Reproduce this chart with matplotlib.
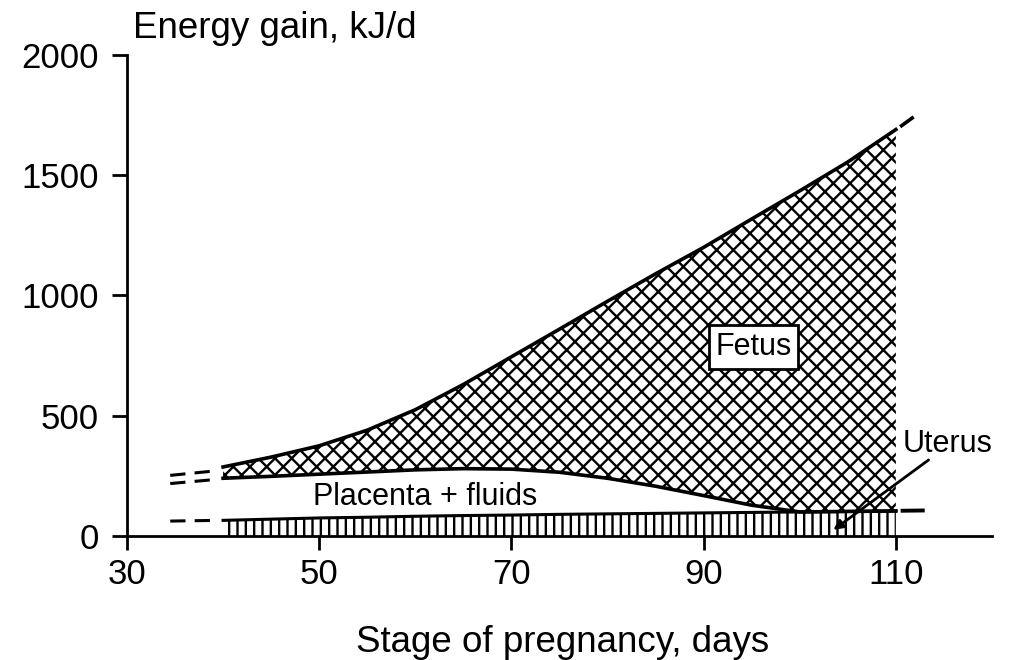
import numpy as np
import matplotlib
matplotlib.use("Agg")
import matplotlib.pyplot as plt

plt.rcParams['font.family'] = ['Liberation Sans', 'DejaVu Sans']
plt.rcParams['hatch.linewidth'] = 1.7

# stage of pregnancy (days) and cumulative energy gain (kJ/d)
days = [40, 45, 50, 55, 60, 65, 70, 75, 80, 85, 90, 95, 100, 105, 110]
uterus = [65, 70, 75, 78, 82, 85, 87, 90, 92, 94, 96, 98, 100, 102, 104]
placenta_top = [240, 248, 257, 266, 275, 280, 278, 265, 240, 207, 168, 128, 100, 102, 104]
fetus_top = [287, 328, 375, 440, 525, 630, 745, 860, 976, 1090, 1200, 1318, 1435, 1555, 1690]

# dashed extrapolations beyond the measured range
ext_left_days = [34.5, 39.5]
ext_left_fetus = [252, 272]
ext_left_placenta = [218, 236]
ext_left_uterus = [62, 65]
ext_right_fetus_days = [110.6, 111.7]
ext_right_fetus = [1706, 1738]
ext_right_uterus_days = [110.7, 112.8]
ext_right_uterus = [105, 106]

xticks = [30, 50, 70, 90, 110]
yticks = [0, 500, 1000, 1500, 2000]

fig = plt.figure(figsize=(10.15, 6.6), dpi=100)
ax = fig.add_axes([0.1251, 0.1879, 0.8522, 0.7288])

ax.fill_between(days, 0, uterus, facecolor='white', edgecolor='black',
                hatch='||', linewidth=0)
ax.fill_between(days, placenta_top, fetus_top, facecolor='white',
                edgecolor='black', hatch='xx', linewidth=0)

ax.plot(days, fetus_top, color='black', lw=2.6, solid_joinstyle='round')
ax.plot(days, placenta_top, color='black', lw=2.6, solid_joinstyle='round')
ax.plot(days, uterus, color='black', lw=2.2)

dash = (0, (5, 3))
ax.plot(ext_left_days, ext_left_fetus, color='black', lw=2.2, linestyle=dash)
ax.plot(ext_left_days, ext_left_placenta, color='black', lw=2.2, linestyle=dash)
ax.plot(ext_left_days, ext_left_uterus, color='black', lw=2.2, linestyle=dash)
ax.plot(ext_right_fetus_days, ext_right_fetus, color='black', lw=2.6)
ax.plot(ext_right_uterus_days, ext_right_uterus, color='black', lw=2.8)

ax.text(95.2, 753, 'Fetus', fontsize=22, ha='center', va='baseline',
        bbox=dict(boxstyle='square,pad=0.22', facecolor='white',
                  edgecolor='black', linewidth=2))
ax.text(49.4, 129, 'Placenta + fluids', fontsize=22, ha='left', va='baseline')
ax.text(110.7, 349, 'Uterus', fontsize=22, ha='left', va='baseline')
ax.annotate('', xy=(103.5, 25), xytext=(113.4, 316),
            arrowprops=dict(arrowstyle='-|>', color='black', lw=2,
                            mutation_scale=14, shrinkA=0, shrinkB=0))

ax.set_xlim(30, 120)
ax.set_ylim(0, 2000)
ax.set_xticks(xticks)
ax.set_yticks(yticks)
ax.spines['top'].set_visible(False)
ax.spines['right'].set_visible(False)
for s in ['left', 'bottom']:
    ax.spines[s].set_linewidth(2)
ax.tick_params(axis='both', direction='out', width=2, labelsize=25)
ax.tick_params(axis='y', length=11, pad=9)
ax.tick_params(axis='x', length=10, pad=6)

fig.text(133 / 1015, 1 - 38 / 660, 'Energy gain, kJ/d', fontsize=26.5,
         ha='left', va='baseline')
fig.text(563 / 1015, 1 - 652 / 660, 'Stage of pregnancy, days', fontsize=26.5,
         ha='center', va='baseline')

fig.savefig('out.png', dpi=100)
